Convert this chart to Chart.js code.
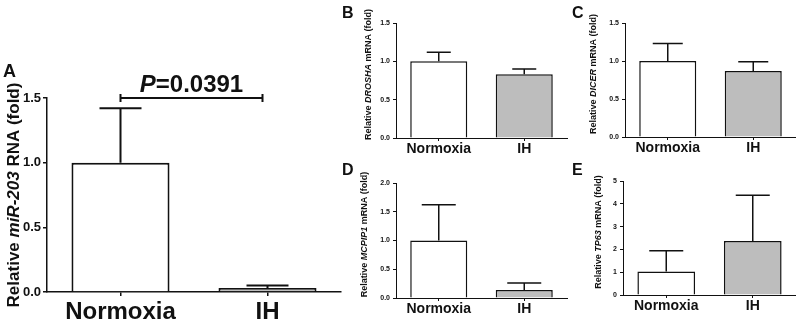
<!DOCTYPE html>
<html>
<head>
<meta charset="utf-8">
<title>miR-203 and related mRNA</title>
<script src="https://cdn.jsdelivr.net/npm/chart.js@4.4.1/dist/chart.umd.min.js"></script>
<style>
  html, body { margin: 0; padding: 0; background: #fff; }
  body { width: 796px; height: 328px; position: relative; overflow: hidden; }
  canvas { position: absolute; }
</style>
</head>
<body>
<canvas id="cA" width="345" height="328" style="left:0;top:0"></canvas>
<canvas id="cB" width="240" height="160" style="left:330px;top:0"></canvas>
<canvas id="cC" width="236" height="160" style="left:560px;top:0"></canvas>
<canvas id="cD" width="240" height="168" style="left:330px;top:160px"></canvas>
<canvas id="cE" width="236" height="168" style="left:560px;top:160px"></canvas>
<script>
// values (mean and upper SD)
const groups = ['Normoxia', 'IH'];
const mir203Mean = [1.0, 0.03];
const mir203Err = [0.42, 0.02];
const droshaMean = [1.0, 0.83];
const droshaErr = [0.12, 0.07];
const dicerMean = [1.0, 0.87];
const dicerErr = [0.23, 0.12];
const mcpip1Mean = [1.0, 0.14];
const mcpip1Err = [0.62, 0.12];
const tp63Mean = [1.03, 2.37];
const tp63Err = [0.91, 2.0];
const pValueLabel = ['P', '=0.0391'];

const FONT = "'Liberation Sans', Arial, Helvetica, sans-serif";
const INK = '#111';
const GREY = '#bdbdbd';

function drawRich(ctx, parts, size, x, y, align) {
  const fonts = parts.map(p => (p[1] ? 'italic ' : '') + 'bold ' + size + 'px ' + FONT);
  let total = 0;
  const ws = parts.map((p, i) => { ctx.font = fonts[i]; const w = ctx.measureText(p[0]).width; total += w; return w; });
  let cx = align === 'center' ? x - total / 2 : x;
  ctx.textAlign = 'left';
  parts.forEach((p, i) => { ctx.font = fonts[i]; ctx.fillText(p[0], cx, y); cx += ws[i]; });
}

const panelDecor = {
  id: 'panelDecor',
  afterDatasetsDraw(chart, args, o) {
    const ctx = chart.ctx;
    const ys = chart.scales.y;
    const meta = chart.getDatasetMeta(0);
    ctx.save();
    ctx.strokeStyle = INK;
    ctx.lineWidth = o.lineWidth;
    meta.data.forEach((bar, i) => {
      const top = ys.getPixelForValue(o.means[i] + o.errors[i]);
      ctx.beginPath();
      ctx.moveTo(bar.x, bar.y);
      ctx.lineTo(bar.x, top);
      ctx.moveTo(bar.x - o.cap, top);
      ctx.lineTo(bar.x + o.cap, top);
      ctx.stroke();
    });
    if (o.sig) {
      const xs = chart.scales.x;
      const x0 = xs.getPixelForValue(0);
      const x1 = xs.getPixelForValue(1) - 5;
      const y = ys.getPixelForValue(o.sig.level);
      ctx.lineWidth = 2;
      ctx.beginPath();
      ctx.moveTo(x0, y); ctx.lineTo(x1, y);
      ctx.moveTo(x0, y - 4); ctx.lineTo(x0, y + 4);
      ctx.moveTo(x1, y - 4); ctx.lineTo(x1, y + 4);
      ctx.stroke();
      ctx.fillStyle = INK;
      ctx.textBaseline = 'alphabetic';
      drawRich(ctx, [[pValueLabel[0], true], [pValueLabel[1], false]], 24, (x0 + x1) / 2, y - 6, 'center');
    }
    ctx.restore();
  },
  afterDraw(chart, args, o) {
    const ctx = chart.ctx;
    const area = chart.chartArea;
    ctx.save();
    ctx.fillStyle = INK;
    ctx.textBaseline = 'alphabetic';
    ctx.font = 'bold ' + o.letterSize + 'px ' + FONT;
    ctx.textAlign = 'left';
    ctx.fillText(o.letter, o.letterX, o.letterY);
    ctx.translate(o.titleX, (area.top + area.bottom) / 2 + o.titleShift);
    ctx.rotate(-Math.PI / 2);
    ctx.textBaseline = 'middle';
    drawRich(ctx, o.title, o.titleSize, 0, 0, 'center');
    ctx.restore();
  }
};

function makePanel(id, c) {
  const tickFont = { family: FONT, size: c.yFont, weight: 'bold' };
  return new Chart(document.getElementById(id), {
    type: 'bar',
    data: {
      labels: groups,
      datasets: [{
        data: c.means,
        backgroundColor: ['#ffffff', GREY],
        borderColor: INK,
        borderWidth: c.lw,
        barPercentage: 0.667,
        categoryPercentage: 1
      }]
    },
    options: {
      responsive: false,
      animation: false,
      devicePixelRatio: 1,
      layout: { padding: { left: 0, top: c.top, right: c.right, bottom: 0 } },
      plugins: {
        legend: { display: false },
        tooltip: { enabled: false },
        panelDecor: {
          means: c.means, errors: c.errors, cap: c.cap, lineWidth: c.lw,
          letter: c.letter, letterX: c.letterX, letterY: c.letterY, letterSize: c.letterSize,
          title: c.title, titleSize: c.titleSize, titleX: c.titleX, titleShift: c.titleShift,
          sig: c.sig
        }
      },
      scales: {
        x: {
          grid: { drawOnChartArea: false, offset: false, tickLength: c.tick, color: INK, lineWidth: c.axisW },
          border: { color: INK, width: c.axisW },
          ticks: { color: INK, font: { family: FONT, size: c.xFont, weight: 'bold' }, padding: c.xPad, maxRotation: 0, autoSkip: false },
          afterFit: s => { s.height = c.xH; }
        },
        y: {
          min: 0,
          max: c.max,
          grid: { drawOnChartArea: false, tickLength: c.tick, color: INK, lineWidth: c.axisW },
          border: { color: INK, width: c.axisW },
          ticks: { stepSize: c.step, color: INK, font: tickFont, padding: c.yPad, callback: v => v.toFixed(c.dec) },
          afterFit: s => { s.width = c.yW; }
        }
      }
    },
    plugins: [panelDecor]
  });
}

makePanel('cA', {
  means: mir203Mean, errors: mir203Err, cap: 21, lw: 2, axisW: 1.5, tick: 4,
  top: 98, right: 4, yW: 47, xH: 36, max: 1.5, step: 0.5, dec: 1,
  yFont: 13, xFont: 24, xPad: 2, yPad: 2,
  letter: 'A', letterX: 3, letterY: 77, letterSize: 18,
  title: [['Relative ', false], ['miR-203', true], [' RNA (fold)', false]], titleSize: 17, titleX: 14, titleShift: 0,
  sig: { level: 1.5 }
});

makePanel('cB', {
  means: droshaMean, errors: droshaErr, cap: 12, lw: 1.5, axisW: 1, tick: 3,
  top: 23, right: 3, yW: 66, xH: 22, max: 1.5, step: 0.5, dec: 1,
  yFont: 7, xFont: 14, xPad: 0, yPad: 3,
  letter: 'B', letterX: 12, letterY: 18, letterSize: 16,
  title: [['Relative ', false], ['DROSHA', true], [' mRNA (fold)', false]], titleSize: 9, titleX: 39, titleShift: -6
});

makePanel('cC', {
  means: dicerMean, errors: dicerErr, cap: 15, lw: 1.5, axisW: 1, tick: 3,
  top: 23, right: 0, yW: 65, xH: 23, max: 1.5, step: 0.5, dec: 1,
  yFont: 7, xFont: 14, xPad: 0, yPad: 3,
  letter: 'C', letterX: 12, letterY: 18, letterSize: 16,
  title: [['Relative ', false], ['DICER', true], [' mRNA (fold)', false]], titleSize: 9, titleX: 34, titleShift: -6
});

makePanel('cD', {
  means: mcpip1Mean, errors: mcpip1Err, cap: 17, lw: 1.5, axisW: 1, tick: 3,
  top: 23, right: 3, yW: 66, xH: 30, max: 2.0, step: 0.5, dec: 1,
  yFont: 7, xFont: 14, xPad: 0, yPad: 3,
  letter: 'D', letterX: 12, letterY: 15, letterSize: 16,
  title: [['Relative ', false], ['MCPIP1', true], [' mRNA (fold)', false]], titleSize: 9, titleX: 35, titleShift: -6
});

makePanel('cE', {
  means: tp63Mean, errors: tp63Err, cap: 17, lw: 1.5, axisW: 1, tick: 3,
  top: 21, right: 0, yW: 63, xH: 33, max: 5, step: 1, dec: 0,
  yFont: 7, xFont: 14, xPad: 0, yPad: 3,
  letter: 'E', letterX: 12, letterY: 15, letterSize: 16,
  title: [['Relative ', false], ['TP63', true], [' mRNA (fold)', false]], titleSize: 9, titleX: 39, titleShift: -6
});
</script>
</body>
</html>
